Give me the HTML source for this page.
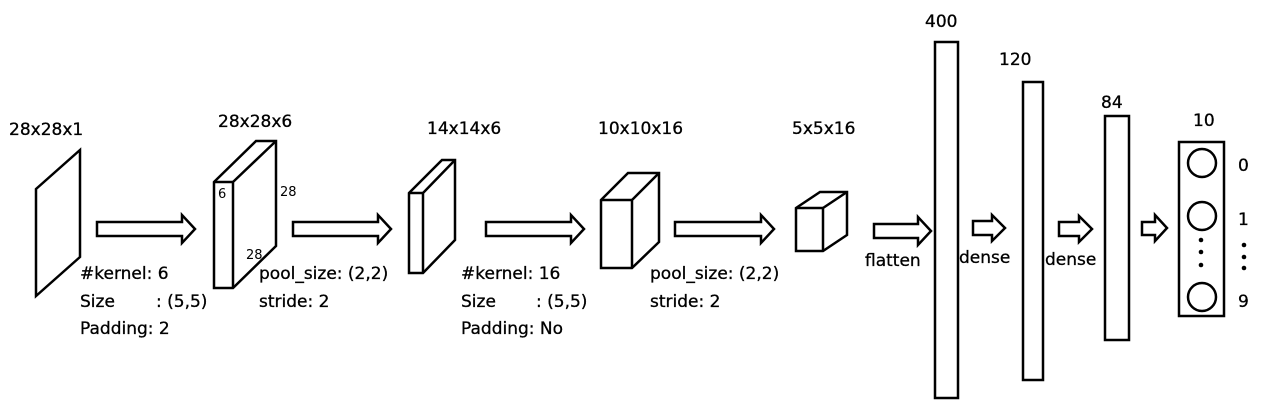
<!DOCTYPE html>
<html><head><meta charset="utf-8"><style>
html,body{margin:0;padding:0;background:#fff;}
svg{display:block;}
text{font-family:"DejaVu Sans","Liberation Sans",sans-serif;fill:#000;}
</style></head><body>
<svg width="1284" height="410" viewBox="0 0 1284 410" xmlns="http://www.w3.org/2000/svg">
<g fill="#fff" stroke="#000" stroke-width="2.5" stroke-linejoin="miter">
<polygon points="36,189 80,150 80,257 36,296"/>
<polygon points="97,222 182,222 182,215 195,229 182,243 182,236 97,236"/>
<polygon points="293,222 378,222 378,215 391,229 378,243 378,236 293,236"/>
<polygon points="486,222 571,222 571,215 584,229 571,243 571,236 486,236"/>
<polygon points="675,222 761,222 761,215 774,229 761,243 761,236 675,236"/>
<polygon points="874,224 918,224 918,217 931,231 918,245 918,238 874,238"/>
<polygon points="973,221 992,221 992,215 1005,228 992,241 992,235 973,235"/>
<polygon points="1059,222 1079,222 1079,216 1092,229 1079,242 1079,236 1059,236"/>
<polygon points="1142,222 1155,222 1155,215 1167,228 1155,241 1155,235 1142,235"/>
<polygon points="214,182 256,141 276,141 276,246 233,288 214,288"/>
<polyline points="233,288 233,182 276,141" fill="none"/>
<line x1="214" y1="182" x2="233" y2="182"/>
<polygon points="409,193 442,160 455,160 455,240 423,273 409,273"/>
<polyline points="423,273 423,193 455,160" fill="none"/>
<line x1="409" y1="193" x2="423" y2="193"/>
<polygon points="601,200 628,173 659,173 659,242 632,268 601,268"/>
<polyline points="632,268 632,200 659,173" fill="none"/>
<line x1="601" y1="200" x2="632" y2="200"/>
<polygon points="796,208 820,192 847,192 847,235 823,251 796,251"/>
<polyline points="823,251 823,208 847,192" fill="none"/>
<line x1="796" y1="208" x2="823" y2="208"/>
<rect x="935" y="42" width="23" height="356"/>
<rect x="1023" y="82" width="20" height="298"/>
<rect x="1105" y="116" width="24" height="224"/>
<rect x="1179" y="142" width="45" height="174"/>
<circle cx="1202" cy="163" r="14"/>
<circle cx="1202" cy="216" r="14"/>
<circle cx="1202" cy="297" r="14"/>
</g>
<g fill="#000">
<circle cx="1201" cy="240" r="2.3"/><circle cx="1201" cy="252" r="2.3"/><circle cx="1201" cy="265" r="2.3"/>
<circle cx="1244" cy="245" r="2.3"/><circle cx="1244" cy="257" r="2.3"/><circle cx="1244" cy="268" r="2.3"/>
</g>
<g font-size="17" stroke="#000" stroke-width="0.3">
<text x="9" y="135">28x28x1</text>
<text x="218" y="127">28x28x6</text>
<text x="427" y="134">14x14x6</text>
<text x="598" y="134">10x10x16</text>
<text x="792" y="134">5x5x16</text>
<text x="925" y="27">400</text>
<text x="999" y="65">120</text>
<text x="1101" y="108">84</text>
<text x="1193" y="126">10</text>
<text x="1238" y="171">0</text>
<text x="1238" y="225">1</text>
<text x="1238" y="307">9</text>
<text x="865" y="266">flatten</text>
<text x="959" y="263">dense</text>
<text x="1045" y="265">dense</text>
<text x="80" y="279">#kernel: 6</text>
<text x="80" y="307">Size</text><text x="156" y="307">: (5,5)</text>
<text x="80" y="334">Padding: 2</text>
<text x="259" y="279">pool_size: (2,2)</text>
<text x="259" y="307">stride: 2</text>
<text x="461" y="279">#kernel: 16</text>
<text x="461" y="307">Size</text><text x="536" y="307">: (5,5)</text>
<text x="461" y="334">Padding: No</text>
<text x="650" y="279">pool_size: (2,2)</text>
<text x="650" y="307">stride: 2</text>
</g>
<g font-size="13">
<text x="218" y="198">6</text>
<text x="280" y="196">28</text>
<text x="246" y="259">28</text>
</g>
</svg>
</body></html>
